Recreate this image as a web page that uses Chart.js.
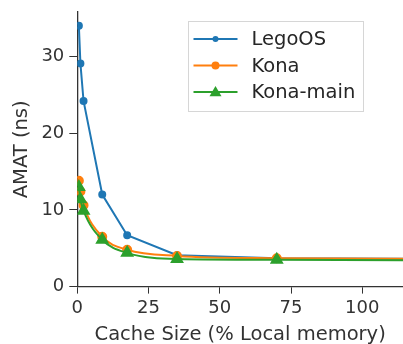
<!DOCTYPE html>
<html><head><meta charset="utf-8">
<script src="https://cdn.jsdelivr.net/npm/chart.js@4"></script>
<style>html,body{margin:0;padding:0;background:#fff}#w{width:403px;height:344px}</style>
</head><body><div id="w"><canvas id="c" width="403" height="344"></canvas></div>
<script>
const cacheSizes = [0.55, 1.09, 2.19, 8.75, 17.5, 35, 70, 140];
const legoOS = [34.0, 29.1, 24.2, 12.0, 6.7, 4.1, 3.7, 3.6];
const kona = [13.8, 12.4, 10.6, 6.5, 4.8, 4.0, 3.7, 3.6];
const konaMain = [13.0, 11.4, 9.9, 6.1, 4.4, 3.6, 3.5, 3.4];
const xTicks = [0, 25, 50, 75, 100];
const yTicks = [0, 10, 20, 30];
const seriesNames = ['LegoOS', 'Kona', 'Kona-main'];

const pts = v => cacheSizes.map((x, i) => ({x, y: v[i]}));
const tickFont = {family: 'DejaVu Sans', size: 18, lineHeight: 1.0};
const titleFont = {family: 'DejaVu Sans', size: 19.5};

const legendPlugin = {
  id: 'boxLegend',
  afterDraw(chart) {
    const ctx = chart.ctx;
    const x0 = 188.5, y0 = 21.5, w = 175, h = 90;
    ctx.save();
    ctx.fillStyle = 'rgba(255,255,255,0.85)';
    ctx.strokeStyle = '#d6d6d6';
    ctx.lineWidth = 1;
    ctx.fillRect(x0, y0, w, h);
    ctx.strokeRect(x0, y0, w, h);
    chart.data.datasets.forEach((ds, i) => {
      const cy = y0 + 17.5 + i * 26.5;
      ctx.strokeStyle = ds.borderColor;
      ctx.lineWidth = 2;
      ctx.beginPath(); ctx.moveTo(x0 + 5, cy); ctx.lineTo(x0 + 49, cy); ctx.stroke();
      ctx.fillStyle = ds.backgroundColor;
      const mx = x0 + 27;
      if (ds.pointStyle === 'triangle') {
        const r = 6;
        ctx.beginPath(); ctx.moveTo(mx, cy - r); ctx.lineTo(mx + r, cy + r * 0.7); ctx.lineTo(mx - r, cy + r * 0.7); ctx.closePath(); ctx.fill();
      } else {
        ctx.beginPath(); ctx.arc(mx, cy, ds.pointRadius, 0, Math.PI * 2); ctx.fill();
      }
      ctx.fillStyle = '#262626';
      ctx.font = '19.5px "DejaVu Sans"';
      ctx.textBaseline = 'middle';
      ctx.fillText(ds.label, x0 + 63, cy + 1);
    });
    ctx.restore();
  }
};

new Chart(document.getElementById('c'), {
  type: 'line',
  data: {
    datasets: [
      {label: seriesNames[0], data: pts(legoOS), borderColor: '#1f77b4', backgroundColor: '#1f77b4', borderWidth: 2, pointRadius: 3, pointStyle: 'circle', order: 2, tension: 0},
      {label: seriesNames[1], data: pts(kona), borderColor: '#ff7f0e', backgroundColor: '#ff7f0e', borderWidth: 2, pointRadius: 4, pointStyle: 'circle', order: 1, cubicInterpolationMode: 'monotone'},
      {label: seriesNames[2], data: pts(konaMain), borderColor: '#2ca02c', backgroundColor: '#2ca02c', borderWidth: 2, pointRadius: 6, pointStyle: 'triangle', order: 0, cubicInterpolationMode: 'monotone'}
    ]
  },
  options: {
    responsive: false, animation: false, devicePixelRatio: 1,
    layout: {autoPadding: false, padding: {left: 10, right: 0, top: 12, bottom: -3}},
    plugins: {legend: {display: false}, tooltip: {enabled: false}},
    scales: {
      x: {
        type: 'linear', min: 0, max: 114.3,
        afterBuildTicks: s => { s.ticks = xTicks.map(v => ({value: v})); },
        afterFit: s => { s.paddingRight = 0; s.paddingLeft = 0; },
        grid: {drawOnChartArea: false, drawTicks: true, tickLength: 7, color: '#333'},
        border: {color: '#333', width: 1.3},
        ticks: {font: tickFont, color: '#333', padding: 6, maxRotation: 0},
        title: {display: true, text: 'Cache Size (% Local memory)', font: titleFont, color: '#333', padding: {top: 0, bottom: 0}}
      },
      y: {
        min: 0, max: 35.8,
        afterBuildTicks: s => { s.ticks = yTicks.map(v => ({value: v})); },
        afterFit: s => { s.paddingTop = 0; s.paddingBottom = 0; },
        grid: {drawOnChartArea: false, drawTicks: true, tickLength: 8, color: '#333'},
        border: {color: '#333', width: 1.3},
        ticks: {font: tickFont, color: '#333', padding: 5},
        title: {display: true, text: 'AMAT (ns)', font: titleFont, color: '#333', padding: {top: 0, bottom: 3}}
      }
    }
  },
  plugins: [legendPlugin]
});
</script></body></html>
